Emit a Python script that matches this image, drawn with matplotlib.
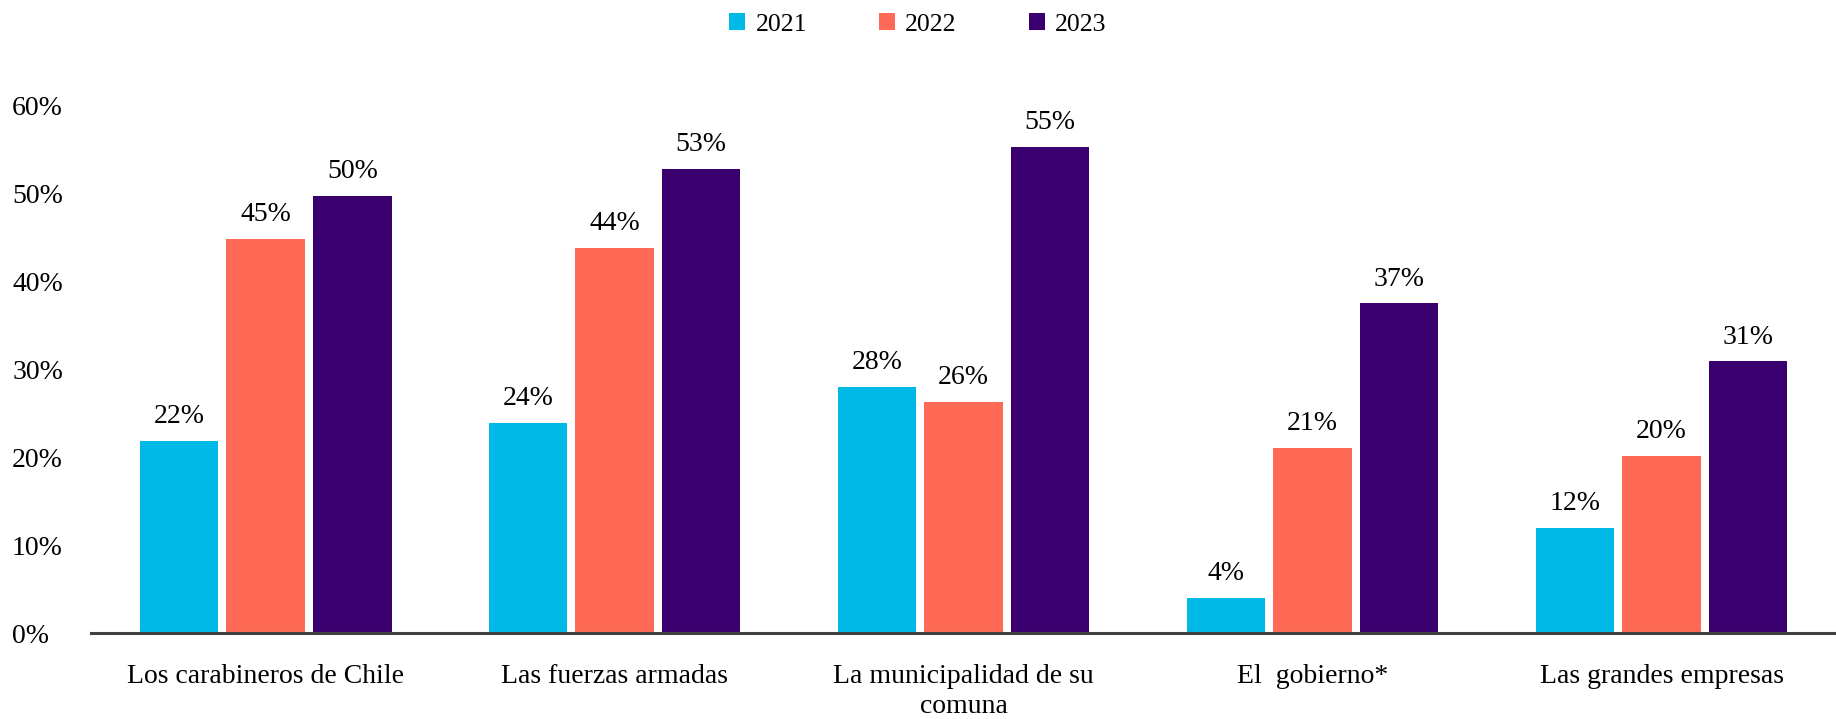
import numpy as np
import matplotlib.pyplot as plt
from matplotlib.patches import Patch

FONT = "Liberation Serif"
plt.rcParams['font.family'] = [FONT, 'DejaVu Serif']

# Data
categories = ["Los carabineros de Chile", "Las fuerzas armadas",
              "La municipalidad de su\ncomuna", "El  gobierno*", "Las grandes empresas"]
years = ["2021", "2022", "2023"]
vals_2021 = [21.9, 23.9, 28.0, 4.0, 12.0]
vals_2022 = [44.8, 43.8, 26.3, 21.1, 20.2]
vals_2023 = [49.7, 52.8, 55.3, 37.5, 30.9]
labels_2021 = ["22%", "24%", "28%", "4%", "12%"]
labels_2022 = ["45%", "44%", "26%", "21%", "20%"]
labels_2023 = ["50%", "53%", "55%", "37%", "31%"]
colors = ["#00B9E7", "#FF6A56", "#3A0070"]

series = [vals_2021, vals_2022, vals_2023]
series_labels = [labels_2021, labels_2022, labels_2023]

fig = plt.figure(figsize=(18.36, 7.19), dpi=100)
ax = fig.add_axes([0.0497, 0.119, 0.9503, 0.7345])

x = np.arange(len(categories))
width = 0.225
step = 0.248

for i, (vals, labs) in enumerate(zip(series, series_labels)):
    pos = x + (i - 1) * step
    ax.bar(pos, vals, width, color=colors[i], label=years[i], zorder=2)
    for px, v, lab in zip(pos, vals, labs):
        ax.annotate(lab, (px, v), xytext=(0, 17.5), textcoords="offset points",
                    ha="center", va="center", fontsize=20, clip_on=False)

ax.set_xlim(-0.5, 4.5)
ax.set_ylim(0, 60)
ax.set_yticks(np.arange(0, 61, 10))
ax.set_yticklabels([f"{t}%" for t in range(0, 61, 10)], fontsize=20)
ax.set_xticks(x)
ax.set_xticklabels(categories, fontsize=20, linespacing=1.25)
ax.tick_params(axis="x", length=0, pad=22)
ax.tick_params(axis="y", length=0, pad=57)
for s in ["top", "right", "left"]:
    ax.spines[s].set_visible(False)
ax.spines["bottom"].set_color("#404040")
ax.spines["bottom"].set_linewidth(2.2)
ax.spines["bottom"].set_zorder(3)
for lab in ax.get_yticklabels():
    lab.set_horizontalalignment("left")

handles = [Patch(facecolor=c, edgecolor="none") for c in colors]
fig.legend(handles, years, loc="center", bbox_to_anchor=(0.5, 0.966), ncol=3,
           frameon=False, fontsize=18.5, handlelength=0.62, handleheight=0.62,
           handletextpad=0.4, columnspacing=2.8)

fig.savefig("out.png", dpi=100)
